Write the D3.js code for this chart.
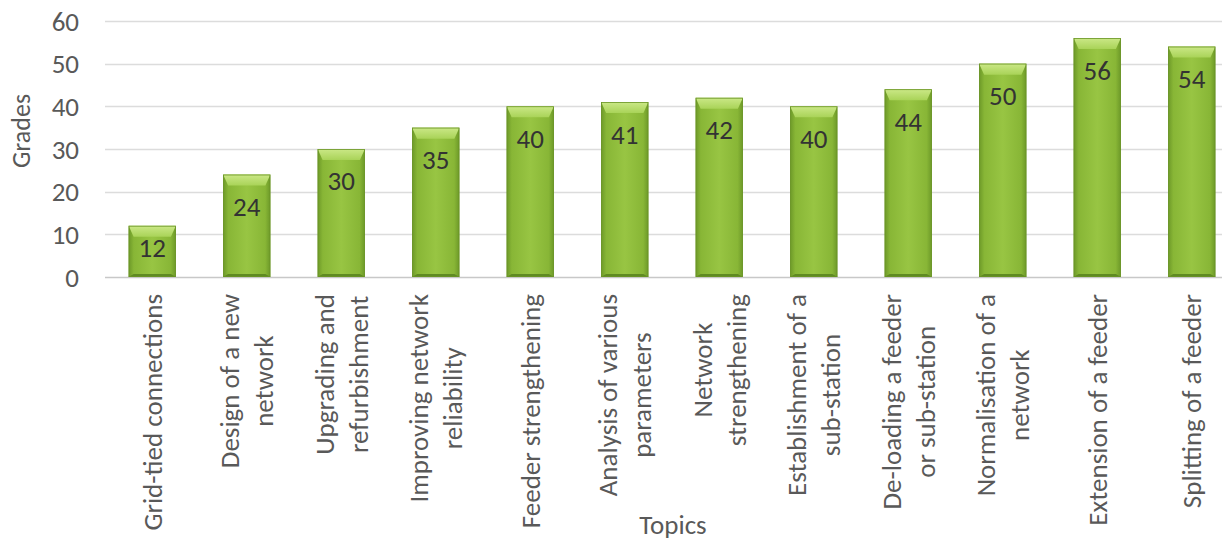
<!DOCTYPE html>
<html>
<head>
<meta charset="utf-8">
<script src="https://cdn.jsdelivr.net/npm/d3@7"></script>
<style>
  html, body { margin: 0; padding: 0; background: #ffffff; }
  svg { display: block; }
  text { font-family: Carlito, Calibri, Lato, "Open Sans", sans-serif; }
</style>
</head>
<body>
<svg id="chart" width="1222" height="542"></svg>
<script>
// Topics (each entry split into its wrapped lines)
const topics = [
  ["Grid-tied connections"],
  ["Design of a new", "network"],
  ["Upgrading and", "refurbishment"],
  ["Improving network", "reliability"],
  ["Feeder strengthening"],
  ["Analysis of various", "parameters"],
  ["Network", "strengthening"],
  ["Establishment of a", "sub-station"],
  ["De-loading a feeder", "or sub-station"],
  ["Normalisation of a", "network"],
  ["Extension of a feeder"],
  ["Splitting of a feeder"]
];
const grades = [12, 24, 30, 35, 40, 41, 42, 40, 44, 50, 56, 54];
const yTicks = [0, 10, 20, 30, 40, 50, 60];
const yTitle = "Grades";
const xTitle = "Topics";

const svg = d3.select("#chart");
const keys = topics.map(t => t.join(" "));

const x = d3.scaleBand()
  .domain(keys)
  .range([105, 1239])
  .paddingInner(0.5)
  .paddingOuter(0.25);

const y = d3.scaleLinear().domain([0, 60]).range([277, 21]);

// Bevel gradients
const defs = svg.append("defs");
const body = defs.append("linearGradient").attr("id", "bodyGrad")
  .attr("x1", "0").attr("x2", "1").attr("y1", "0").attr("y2", "0");
[["0%", "#6c9828"], ["11%", "#88b636"], ["50%", "#98c543"], ["89%", "#88b636"], ["100%", "#6c9828"]]
  .forEach(([o, c]) => body.append("stop").attr("offset", o).attr("stop-color", c));
const topG = defs.append("linearGradient").attr("id", "topGrad")
  .attr("x1", "0").attr("x2", "0").attr("y1", "0").attr("y2", "1");
[["0%", "#cbe887"], ["100%", "#a9d358"]]
  .forEach(([o, c]) => topG.append("stop").attr("offset", o).attr("stop-color", c));

// Gridlines
const grid = svg.append("g");
grid.selectAll("line").data(yTicks).join("line")
  .attr("x1", 105).attr("x2", 1222)
  .attr("y1", d => Math.round(y(d)) + 0.5).attr("y2", d => Math.round(y(d)) + 0.5)
  .attr("stroke", d => d === 0 ? "#c8c8c8" : "#dcdcdc")
  .attr("stroke-width", 1.5);

// Y axis labels
const yAxis = d3.axisLeft(y).tickValues(yTicks).tickSize(0).tickPadding(0);
const yg = svg.append("g").attr("transform", "translate(79,0)").call(yAxis);
yg.select(".domain").remove();
yg.selectAll("text")
  .attr("fill", "#595959")
  .style("font-size", "27px")
  .attr("dy", "0.34em");

// Bars
const bevel = 5, topH = 11;
const bars = svg.append("g").selectAll("g").data(grades).join("g");
bars.each(function(v, i) {
  const g = d3.select(this);
  const x0 = x(keys[i]), w = x.bandwidth(), x1 = x0 + w;
  const t = y(v), b = y(0);
  g.append("rect").attr("x", x0).attr("y", t).attr("width", w).attr("height", b - t)
    .attr("fill", "url(#bodyGrad)");
  // top chamfer
  g.append("path")
    .attr("d", `M${x0},${t}L${x1},${t}L${x1 - bevel},${t + topH}L${x0 + bevel},${t + topH}Z`)
    .attr("fill", "url(#topGrad)");
  // bottom edge
  g.append("path")
    .attr("d", `M${x0},${b}L${x1},${b}L${x1 - bevel},${b - 3}L${x0 + bevel},${b - 3}Z`)
    .attr("fill", "#5f8a22");
  g.append("rect").attr("x", x0 + 0.4).attr("y", t + 0.4).attr("width", w - 0.8).attr("height", b - t - 0.8)
    .attr("fill", "none").attr("stroke", "#6a9426").attr("stroke-width", 0.8);
});

// Value labels
svg.append("g").selectAll("text").data(grades).join("text")
  .attr("x", (d, i) => x(keys[i]) + x.bandwidth() / 2)
  .attr("y", d => Math.min(y(d) + 32, (y(d) + y(0)) / 2 - 4))
  .attr("text-anchor", "middle")
  .attr("dy", "0.35em")
  .attr("fill", "#333333")
  .style("font-size", "27px")
  .text(d => d);

// Category labels, rotated, wrapped lines centred on each other
const lineH = 34, labelTop = 294;
const cats = svg.append("g").selectAll("g").data(topics).join("g")
  .attr("transform", (d, i) => `translate(${x(keys[i]) + x.bandwidth() / 2},${labelTop}) rotate(-90)`);
cats.each(function(lines) {
  const g = d3.select(this);
  const texts = lines.map((ln, j) => g.append("text")
    .attr("y", (j - (lines.length - 1) / 2) * lineH)
    .attr("dy", "0.35em")
    .attr("text-anchor", "middle")
    .attr("fill", "#595959")
    .style("font-size", "27px")
    .text(ln));
  const maxLen = d3.max(texts, t => t.node().getComputedTextLength());
  texts.forEach(t => t.attr("x", -maxLen / 2));
});

// Axis titles
svg.append("text")
  .attr("transform", "translate(21,131) rotate(-90)")
  .attr("text-anchor", "middle").attr("dy", "0.35em")
  .attr("fill", "#595959").style("font-size", "26px")
  .text(yTitle);
svg.append("text")
  .attr("x", 673).attr("y", 534)
  .attr("text-anchor", "middle")
  .attr("fill", "#595959").style("font-size", "27px")
  .text(xTitle);
</script>
</body>
</html>
